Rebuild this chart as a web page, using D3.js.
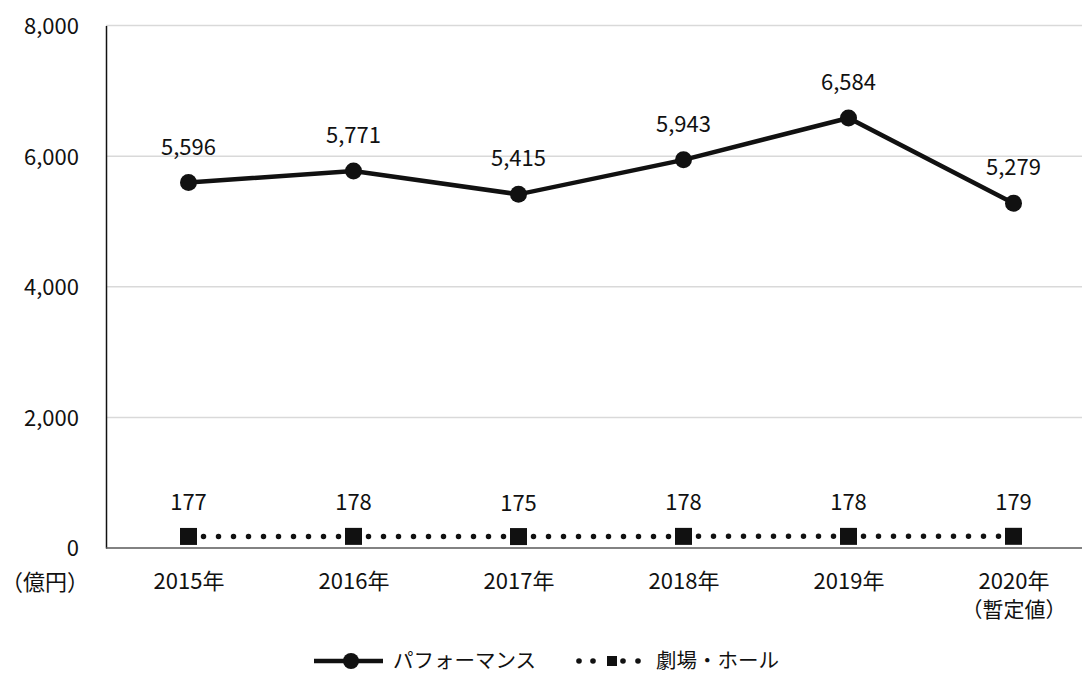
<!DOCTYPE html>
<html>
<head>
<meta charset="utf-8">
<script src="https://cdn.jsdelivr.net/npm/d3@7"></script>
<style>
  html, body { margin: 0; padding: 0; background: #fff; }
  svg text { font-family: "Noto Sans CJK JP", sans-serif; fill: #111; }
</style>
</head>
<body>
<svg id="chart" width="1082" height="674"></svg>
<script>
// Market size (億円) by year
const years = ["2015年", "2016年", "2017年", "2018年", "2019年", "2020年"];
const yearNotes = ["", "", "", "", "", "（暫定値）"];
const performance = [5596, 5771, 5415, 5943, 6584, 5279];
const theatre = [177, 178, 175, 178, 178, 179];
const yTicks = [0, 2000, 4000, 6000, 8000];
const seriesNames = ["パフォーマンス", "劇場・ホール"];

const svg = d3.select("#chart");
const fmt = d3.format(",");

const x = d3.scalePoint().domain(years).range([106, 1096]).padding(0.5);
const y = d3.scaleLinear().domain([0, 8000]).range([548, 25.5]);

// Horizontal gridlines
svg.append("g").selectAll("line").data(yTicks.filter(d => d > 0)).join("line")
  .attr("x1", 106).attr("x2", 1096)
  .attr("y1", d => y(d)).attr("y2", d => y(d))
  .attr("stroke", "#d9d9d9").attr("stroke-width", 1.5);

// Y axis
const yAxis = svg.append("g").attr("transform", "translate(106,0)")
  .call(d3.axisLeft(y).tickValues(yTicks).tickFormat(fmt).tickSize(0).tickPadding(27));
yAxis.select(".domain").attr("stroke", "#111").attr("stroke-width", 1.5);
yAxis.selectAll("text").attr("font-size", 22).attr("dy", "0.36em")
  .style("font-family", "'Noto Sans CJK JP', sans-serif");

// Unit label
svg.append("text").attr("x", 45).attr("y", 590).attr("text-anchor", "middle")
  .attr("font-size", 22).text("（億円）");

// X axis
const xAxis = svg.append("g").attr("transform", "translate(0,548)")
  .call(d3.axisBottom(x).tickSize(0).tickPadding(0));
xAxis.select(".domain").attr("stroke", "#595959").attr("stroke-width", 1.5)
  .attr("d", "M106,0H1096");
xAxis.selectAll(".tick text").remove();
const xt = xAxis.selectAll(".tick").append("text")
  .attr("text-anchor", "middle").attr("font-size", 22).attr("fill", "#111");
xt.append("tspan").attr("x", 0).attr("y", 41).text(d => d);
xt.filter((d, i) => yearNotes[i]).append("tspan")
  .attr("x", 0).attr("y", 69).attr("font-size", 21)
  .text((d) => yearNotes[years.indexOf(d)]);

// Theatre & hall: dotted line with square markers
svg.append("path").datum(theatre)
  .attr("fill", "none").attr("stroke", "#111").attr("stroke-width", 5.5)
  .attr("stroke-linecap", "round").attr("stroke-dasharray", "0 15")
  .attr("d", d3.line().x((d, i) => x(years[i])).y(d => y(d)));
svg.append("g").selectAll("rect").data(theatre).join("rect")
  .attr("x", (d, i) => x(years[i]) - 8.5).attr("y", d => y(d) - 8.5)
  .attr("width", 17).attr("height", 17).attr("fill", "#111");
svg.append("g").selectAll("text").data(theatre).join("text")
  .attr("x", (d, i) => x(years[i])).attr("y", d => y(d) - 26)
  .attr("text-anchor", "middle").attr("font-size", 22).text(fmt);

// Performance: solid line with circle markers
svg.append("path").datum(performance)
  .attr("fill", "none").attr("stroke", "#111").attr("stroke-width", 4.5)
  .attr("d", d3.line().x((d, i) => x(years[i])).y(d => y(d)));
svg.append("g").selectAll("circle").data(performance).join("circle")
  .attr("cx", (d, i) => x(years[i])).attr("cy", d => y(d)).attr("r", 8.5)
  .attr("fill", "#111");
svg.append("g").selectAll("text").data(performance).join("text")
  .attr("x", (d, i) => x(years[i])).attr("y", d => y(d) - 28)
  .attr("text-anchor", "middle").attr("font-size", 22).text(fmt);

// Legend
const lg = svg.append("g").attr("transform", "translate(0,661)");
lg.append("line").attr("x1", 314).attr("x2", 383).attr("y1", 0).attr("y2", 0)
  .attr("stroke", "#111").attr("stroke-width", 4.5);
lg.append("circle").attr("cx", 351).attr("cy", 0).attr("r", 8).attr("fill", "#111");
lg.append("text").attr("x", 393).attr("y", 0).attr("dy", "0.33em")
  .attr("font-size", 20.5).text(seriesNames[0]);
lg.selectAll("circle.dot").data([579, 593, 623, 638]).join("circle")
  .attr("class", "dot").attr("cx", d => d).attr("cy", 0).attr("r", 2.8).attr("fill", "#111");
lg.append("rect").attr("x", 607).attr("y", -5).attr("width", 10).attr("height", 10).attr("fill", "#111");
lg.append("text").attr("x", 656).attr("y", 0).attr("dy", "0.33em")
  .attr("font-size", 20.5).text(seriesNames[1]);
</script>
</body>
</html>
